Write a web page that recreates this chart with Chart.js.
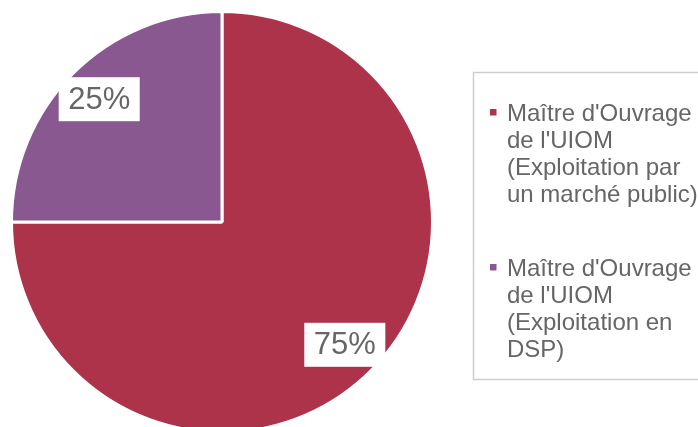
<!DOCTYPE html>
<html>
<head>
<meta charset="utf-8">
<script src="https://cdn.jsdelivr.net/npm/chart.js@4"></script>
<style>
  body { margin: 0; overflow: hidden; background: #fff; }
</style>
</head>
<body>
<canvas id="chart" width="698" height="440"></canvas>
<script>
const categories = [
  ["Maître d'Ouvrage", "de l'UIOM", "(Exploitation par", "un marché public)"],
  ["Maître d'Ouvrage", "de l'UIOM", "(Exploitation en", "DSP)"]
];
const shares = [75, 25];
const sliceColors = ['#ad334a', '#8a5890'];

const textGrey = '#666666';

// white boxes with percentages, placed along each slice's middle angle
const percentLabels = {
  id: 'percentLabels',
  afterDatasetsDraw(chart) {
    const ctx = chart.ctx;
    const meta = chart.getDatasetMeta(0);
    const total = shares.reduce((a, b) => a + b, 0);
    ctx.save();
    ctx.font = '31px "Liberation Sans", Arial, sans-serif';
    ctx.textAlign = 'center';
    ctx.textBaseline = 'middle';
    meta.data.forEach((arc, i) => {
      const mid = (arc.startAngle + arc.endAngle) / 2;
      const r = arc.outerRadius * 0.825;
      const x = arc.x + Math.cos(mid) * r;
      const y = arc.y + Math.sin(mid) * r;
      const txt = Math.round(shares[i] / total * 100) + '%';
      const w = ctx.measureText(txt).width + 19;
      const h = 44;
      ctx.fillStyle = '#ffffff';
      ctx.fillRect(x - w / 2, y - h / 2, w, h);
      ctx.fillStyle = textGrey;
      ctx.fillText(txt, x, y + 1);
    });
    ctx.restore();
  }
};

// legend on the right, in a light grey frame
const sideLegend = {
  id: 'sideLegend',
  afterDraw(chart) {
    const ctx = chart.ctx;
    ctx.save();
    ctx.strokeStyle = '#d0cece';
    ctx.lineWidth = 1.5;
    ctx.strokeRect(473.5, 72.5, 240, 307);
    ctx.font = '24px "Liberation Sans", Arial, sans-serif';
    ctx.textBaseline = 'alphabetic';
    ctx.textAlign = 'left';
    let y = 121;
    categories.forEach((lines, i) => {
      ctx.fillStyle = sliceColors[i];
      ctx.fillRect(490, y - 12, 6.5, 6.5);
      ctx.fillStyle = textGrey;
      lines.forEach((line, j) => {
        ctx.fillText(line, 507, y + j * 27);
      });
      y += 155;
    });
    ctx.restore();
  }
};

const ctx = document.getElementById('chart').getContext('2d');

let chart = new Chart(ctx, {
  type: 'pie',
  data: {
    labels: categories.map(l => l.join(' ')),
    datasets: [{
      data: shares,
      backgroundColor: sliceColors,
      borderColor: '#ffffff',
      borderWidth: 3
    }]
  },
  options: {
    responsive: false,
    animation: false,
    layout: {
      padding: { left: 10, right: 264, top: 10, bottom: 6 }
    },
    plugins: {
      legend: { display: false },
      tooltip: { enabled: false }
    }
  },
  plugins: [percentLabels, sideLegend]
});
</script>
</body>
</html>
